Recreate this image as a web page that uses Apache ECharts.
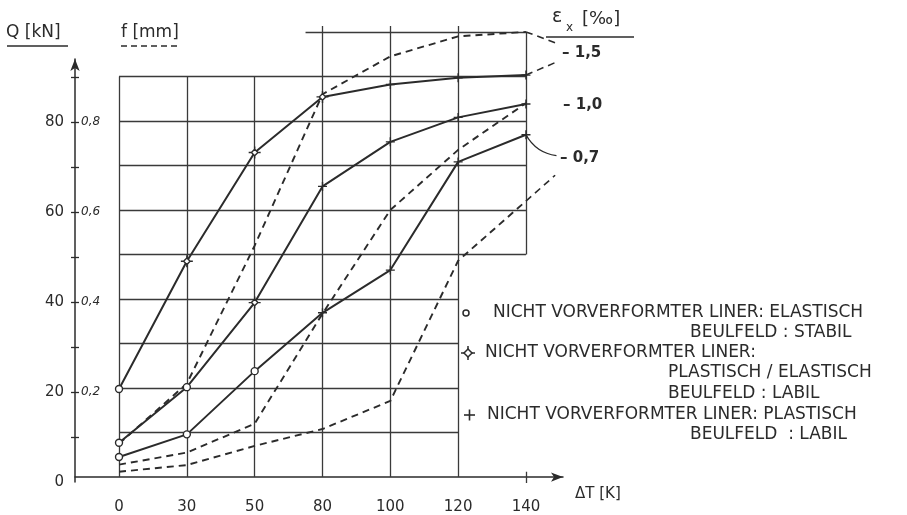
<!DOCTYPE html>
<html><head><meta charset="utf-8">
<script src="https://cdn.jsdelivr.net/npm/echarts@6/dist/echarts.min.js"></script>
<style>html,body{margin:0;padding:0;background:#fff}#c{width:907px;height:515px}</style>
</head><body><div id="c"></div>
<script>
// ---- data ----
const xLabels = ['0', '30', '50', '80', '100', '120', '140'];          // ΔT [K]
// Q [kN] (solid)
const q15 = [19.8, 48.5, 72.9, 85.4, 88.2, 89.7, 90.3];
const q10 = [7.7, 20.2, 39.2, 65.3, 75.3, 80.8, 83.8];
const q07 = [4.5, 9.6, 23.8, 36.9, 46.5, 70.8, 76.9];
// f [mm] (dashed)
const f15 = [0.075, 0.21, 0.52, 0.86, 0.945, 0.99, 1.0];
const f10 = [0.028, 0.055, 0.12, 0.367, 0.60, 0.735, 0.84];
const f07 = [0.012, 0.027, 0.07, 0.108, 0.171, 0.486, 0.62];
// marker types per point: o = elastisch/stabil, d = plastisch/elastisch labil, p = plastisch labil
const m15 = ['o', 'd', 'd', 'd', 'p', 'p', 'p'];
const m10 = ['o', 'o', 'd', 'p', 'p', 'p', 'p'];
const m07 = ['o', 'o', 'o', 'p', 'p', 'p', 'p'];
// axis tick labels
const qTicks = [0, 20, 40, 60, 80];
const qTickLabels = ['0', '20', '40', '60', '80'];
const fTicks = [20, 40, 60, 80];
const fTickLabels = ['0,2', '0,4', '0,6', '0,8'];
const epsLabels = ['– 1,5', '– 1,0', '– 0,7'];
// grid segments (x = category index, y in kN units)
const vLines = [[0, 0, 90], [1, 0, 90], [2, 0, 90], [3, 0, 101.3], [4, 0, 101.3], [5, 0, 101.3], [6, 50, 100], [6, -1.3, 1.2]];
const hLines = [[10, 0, 5], [20, 0, 5], [30, 0, 5], [40, 0, 5], [50, 0, 6], [60, 0, 6], [70, 0, 6], [80, 0, 6], [90, 0, 6], [100, 2.75, 6]];
// leader line targets (near the ε labels)
const leadTo15f = [6.46, 97.4];
const leadTo15q = [6.46, 93.3];
const leadTo07q = [6.45, 72.2];
const leadTo07f = [6.43, 67.8];

// ---- style ----
const ink = '#2b2b2b';
const FONT = 'DejaVu Sans';
const symbols = {
  o: 'circle',
  d: 'path://M5,2L8,5L5,8L2,5Z M5,-0.5L5,2 M5,8L5,10.5 M-0.5,5L2,5 M8,5L10.5,5',
  p: 'path://M0,5L10,5 M5,0L5,10'
};
const symSize = { o: 7, d: 12, p: 9 };

function qSeries(name, vals, marks) {
  return {
    name, type: 'line', xAxisIndex: 0, yAxisIndex: 0, z: 5,
    data: vals.map((v, i) => ({ value: [i, v], symbol: symbols[marks[i]], symbolSize: symSize[marks[i]] })),
    lineStyle: { color: ink, width: 2 },
    itemStyle: { color: '#fff', borderColor: ink, borderWidth: 1.4 },
    showAllSymbol: true, animation: false
  };
}
function fSeries(name, vals) {
  return {
    name, type: 'line', xAxisIndex: 0, yAxisIndex: 1, z: 4,
    data: vals.map((v, i) => [i, v]), symbol: 'none',
    lineStyle: { color: ink, width: 1.9, type: [7, 5] }, animation: false
  };
}

const gridSegs = [];
vLines.forEach(([x, y0, y1]) => gridSegs.push({ coords: [[x, y0], [x, y1]] }));
hLines.forEach(([y, x0, x1]) => gridSegs.push({ coords: [[x0, y], [x1, y]] }));

const chart = echarts.init(document.getElementById('c'), null, { renderer: 'canvas' });
const txt = (text, x, y, size, extra) => ({
  type: 'text', x, y, silent: true,
  style: Object.assign({ text, fontSize: size, fontFamily: FONT, fill: ink, textAlign: 'left', textVerticalAlign: 'middle' }, (extra || {}))
});
const seg = (x1, y1, x2, y2, dash, w) => ({
  type: 'line', silent: true, shape: { x1, y1, x2, y2 },
  style: { stroke: ink, lineWidth: w || 1.6, lineDash: dash || null }
});

chart.setOption({
  backgroundColor: '#fff',
  animation: false,
  grid: [
    { left: 75, right: 344, top: 23, bottom: 24 },
    { left: 75, width: 10, top: 59, bottom: 33 }
  ],
  xAxis: [
    {
      type: 'value', gridIndex: 0, min: -0.649, max: 6.546,
      axisLine: { show: true, onZero: true, symbol: ['none', 'arrow'], symbolSize: [7, 12], lineStyle: { color: ink, width: 1.5 } },
      axisTick: { show: false },
      axisLabel: { customValues: [0, 1, 2, 3, 4, 5, 6], formatter: v => xLabels[Math.round(v)], margin: 14, fontSize: 15, fontFamily: FONT, color: ink },
      splitLine: { show: false }
    },
    { type: 'value', gridIndex: 1, show: false, min: 0, max: 1 }
  ],
  yAxis: [
    { type: 'value', gridIndex: 0, min: -2, max: 102, show: false, splitLine: { show: false } },
    { type: 'value', gridIndex: 0, min: -0.02, max: 1.02, show: false, splitLine: { show: false } },
    {
      type: 'value', gridIndex: 1, min: 0, max: 94, position: 'left',
      axisLine: { show: true, symbol: ['none', 'arrow'], symbolSize: [7, 12], lineStyle: { color: ink, width: 1.5 } },
      axisTick: { show: true, customValues: [10, 20, 30, 40, 50, 60, 70, 80, 90], length: 4, lineStyle: { color: ink, width: 1.3 } },
      axisLabel: { customValues: qTicks, formatter: v => qTickLabels[qTicks.indexOf(Math.round(v))], margin: 11, fontSize: 15, fontFamily: FONT, color: ink },
      splitLine: { show: false }
    },
    {
      type: 'value', gridIndex: 1, min: 0, max: 94, position: 'left', offset: 0,
      axisLine: { show: false },
      axisTick: { show: true, inside: true, customValues: [10, 20, 30, 40, 50, 60, 70, 80, 90], length: 4, lineStyle: { color: ink, width: 1.3 } },
      axisLabel: { inside: true, customValues: fTicks, formatter: v => fTickLabels[fTicks.indexOf(Math.round(v))], margin: 6, fontSize: 12, fontStyle: 'italic', fontFamily: FONT, color: ink },
      splitLine: { show: false }
    }
  ],
  series: [
    {
      type: 'lines', coordinateSystem: 'cartesian2d', xAxisIndex: 0, yAxisIndex: 0, z: 1, silent: true,
      data: gridSegs, lineStyle: { color: '#3a3a3a', width: 1.3, opacity: 1 }, animation: false
    },
    fSeries('f ε=-1,5', f15), fSeries('f ε=-1,0', f10), fSeries('f ε=-0,7', f07),
    qSeries('Q ε=-1,5', q15, m15), qSeries('Q ε=-1,0', q10, m10), qSeries('Q ε=-0,7', q07, m07),
    {
      type: 'lines', coordinateSystem: 'cartesian2d', xAxisIndex: 0, yAxisIndex: 0, z: 3, silent: true, animation: false,
      data: [
        { coords: [[6, f15[6] * 100], leadTo15f], lineStyle: { type: [7, 5] } },
        { coords: [[6, q15[6]], leadTo15q], lineStyle: { type: [7, 5] } },
        { coords: [[6, q07[6]], leadTo07q], lineStyle: { type: 'solid', curveness: -0.25, width: 1.4 } },
        { coords: [[6, f07[6] * 100], leadTo07f], lineStyle: { type: [7, 5] } }
      ],
      lineStyle: { color: ink, width: 1.6, opacity: 1 }
    }
  ],
  graphic: [
    txt('Q [kN]', 6, 33, 17),
    seg(7, 46, 68, 46),
    txt('f [mm]', 121, 33, 17),
    seg(121, 46, 181, 46, [6, 4]),
    txt('ε', 552, 17, 19),
    txt('x', 566, 28, 12),
    txt('[‰]', 582, 19, 18),
    seg(546, 37, 634, 37),
    txt(epsLabels[0], 562, 53, 15, { fontWeight: 'bold' }),
    txt(epsLabels[1], 563, 105, 15, { fontWeight: 'bold' }),
    txt(epsLabels[2], 560, 158, 15, { fontWeight: 'bold' }),
    txt('ΔT [K]', 575, 494, 15),
    // key
    { type: 'circle', silent: true, shape: { cx: 466, cy: 313, r: 3 }, style: { fill: '#fff', stroke: ink, lineWidth: 1.5 } },
    txt('NICHT VORVERFORMTER LINER: ELASTISCH', 493, 313, 17),
    txt('BEULFELD : STABIL', 690, 333, 17),
    { type: 'polygon', silent: true, shape: { points: [[468, 349], [472, 353], [468, 357], [464, 353]] }, style: { fill: '#fff', stroke: ink, lineWidth: 1.5 } },
    seg(468, 346, 468, 349, null, 1.5), seg(468, 357, 468, 360, null, 1.5),
    seg(461, 353, 464, 353, null, 1.5), seg(472, 353, 475, 353, null, 1.5),
    txt('NICHT VORVERFORMTER LINER:', 485, 353, 17),
    txt('PLASTISCH / ELASTISCH', 668, 373, 17),
    txt('BEULFELD : LABIL', 668, 394, 17),
    seg(464, 415, 475, 415, null, 1.6), seg(469.5, 409.5, 469.5, 420.5, null, 1.6),
    txt('NICHT VORVERFORMTER LINER: PLASTISCH', 487, 415, 17),
    txt('BEULFELD  : LABIL', 690, 435, 17)
  ]
});
</script>
</body></html>
